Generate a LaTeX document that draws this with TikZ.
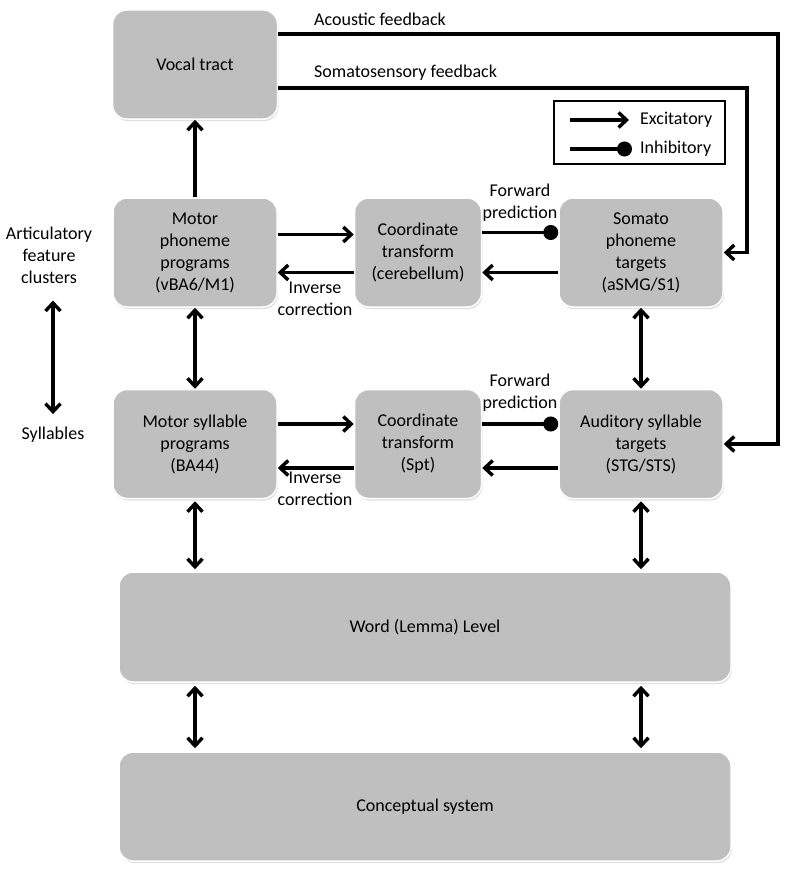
\documentclass[tikz,border=0pt]{standalone}
\usepackage{fontspec}
\setmainfont{Carlito}
\usetikzlibrary{arrows.meta, positioning, shadows}
\definecolor{boxgray}{RGB}{191,191,191}

\begin{document}
\begin{tikzpicture}[x=1pt, y=-1pt, >={Straight Barb[length=8pt,width=15pt]},
	font=\fontsize{18}{22}\selectfont]
    \tikzstyle{block} = [fill=boxgray, draw=white, line width=1.5pt, rounded corners=14pt,
	minimum width=164pt, minimum height=109pt, align=center, inner sep=2pt,
	drop shadow={opacity=0.25, shadow xshift=1pt, shadow yshift=-2pt}]
    \tikzstyle{wide} = [block, minimum width=612pt, minimum height=110pt]
    \tikzstyle{lbl} = [align=center, inner sep=1pt]
    \tikzstyle{link} = [line width=3.4pt]

    \useasboundingbox (0,0) rectangle (800,883);

		\path[->, link]
			node[block, minimum width=165pt] (vocal) at (195,64.5) {Vocal tract}
			node[block] (mph) at (195,252.5) {Motor\\phoneme\\programs\\(vBA6/M1)}
			node[block, minimum width=127pt, right=76pt of mph] (coord1) {Coordinate\\transform\\(cerebellum)}
			node[block, right=76pt of coord1] (somato) {Somato\\phoneme\\targets\\(aSMG/S1)}
			node[block, below=81pt of mph] (msyl) {Motor syllable\\programs\\(BA44)}
			node[block, minimum width=127pt, right=76pt of msyl] (coord2) {Coordinate\\transform\\(Spt)}
			node[block, right=76pt of coord2] (aud) {Auditory syllable\\targets\\(STG/STS)}
			node[wide] (word) at (425,627) {Word (Lemma) Level}
			node[wide, minimum height=109pt] (concept) at (425,806.5) {Conceptual system}

			(mph) edge (vocal)
			([yshift=18pt]mph.east) edge ([yshift=18pt]coord1.west)
			([yshift=-20pt]coord1.west) edge ([yshift=-20pt]mph.east)
			([yshift=20pt]coord1.east) edge[-{Circle[length=15pt]}] ([yshift=20pt]somato.west)
			([yshift=-20pt]somato.west) edge ([yshift=-20pt]coord1.east)
			(mph) edge[<->] (msyl)
			(somato) edge[<->] (aud)
			([yshift=20pt]msyl.east) edge ([yshift=20pt]coord2.west)
			([yshift=-24pt]coord2.west) edge ([yshift=-24pt]msyl.east)
			([yshift=20pt]coord2.east) edge[-{Circle[length=15pt]}] ([yshift=20pt]aud.west)
			([yshift=-24pt]aud.west) edge ([yshift=-24pt]coord2.east)
			(msyl) edge[<->, shorten <=2pt, shorten >=2pt] (msyl |- word.north)
			(aud) edge[<->, shorten <=2pt, shorten >=2pt] (aud |- word.north)
			(word.south -| msyl) edge[<->, shorten <=3pt, shorten >=3pt] (concept.north -| msyl)
			(word.south -| aud) edge[<->, shorten <=3pt, shorten >=3pt] (concept.north -| aud)
		;

    % feedback loops
    \coordinate (acR) at (778,34);
    \coordinate (soR) at (747,88);
    \draw[->, link] (vocal.east |- acR) -- (acR) |- (aud.east);
    \draw[->, link] (vocal.east |- soR) -- (soR) |- (somato.east);
    \node[lbl, anchor=west] (acfb) at (313,19) {Acoustic feedback};
    \node[lbl, anchor=west] (sofb) at (313,73) {Somatosensory feedback};

    \node[lbl] (fwd1) at (520,203) {Forward\\prediction};
    \node[lbl] (inv1) at (315,298.5) {Inverse\\correction};
    \node[lbl] (fwd2) at (520,393) {Forward\\prediction};
    \node[lbl] (inv2) at (315,488.5) {Inverse\\correction};

    \node[lbl] (artic) at (49,255) {Articulatory\\feature\\clusters};
    \node[lbl] (syl) at (53,435) {Syllables};
    \draw[<->, link, shorten <=16pt, shorten >=12pt] (artic.south -| syl.north) -- (syl.north);

    % legend
    \node[draw, line width=1.2pt, minimum width=171pt, minimum height=63pt] (legend) at (639.5,132.5) {};
    \node[lbl, anchor=west] (extxt) at (639,120) {Excitatory};
    \node[lbl, anchor=west] (intxt) at (639,149) {Inhibitory};
    \draw[->, link] ([xshift=17pt]legend.west |- extxt.west) -- ([xshift=-10pt]extxt.west);
    \draw[-{Circle[length=15pt]}, link] ([xshift=17pt]legend.west |- intxt.west) -- ([xshift=-7pt]intxt.west);

\end{tikzpicture}
\end{document}
